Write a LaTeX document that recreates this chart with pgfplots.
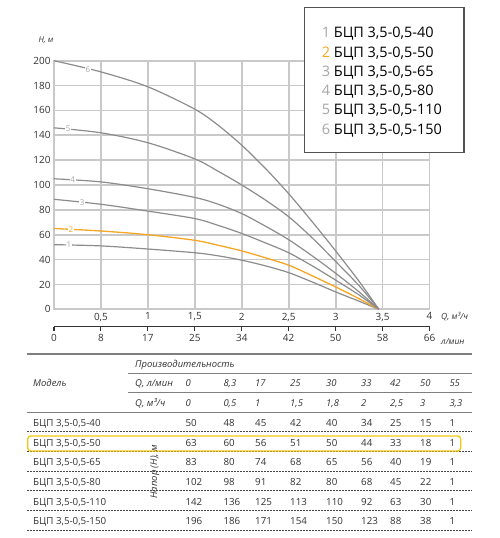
\documentclass[border=0pt]{standalone}
\usepackage{fontspec}
\setmainfont{Open Sans}
\usepackage{pgfplots}
\pgfplotsset{compat=1.18}

\definecolor{gridc}{HTML}{C9C9C9}
\definecolor{curvec}{HTML}{8C8C8C}
\definecolor{orangec}{HTML}{F5A623}
\definecolor{textc}{HTML}{333333}
\definecolor{numc}{HTML}{A6A6A6}
\definecolor{linec}{HTML}{7F7F7F}
\definecolor{boxc}{HTML}{F2C811}

\newcommand{\fs}[1]{\fontsize{#1}{#1}\selectfont}

\begin{document}
\begin{tikzpicture}
\useasboundingbox (0bp,0bp) rectangle (500bp,538bp);

% main chart
\begin{axis}[
    scale only axis,
    width=375.5bp, height=248.6bp,
    at={(54bp,228.7bp)}, anchor=south west,
    xmin=0, xmax=4, ymin=0, ymax=200,
    xtick={0,0.5,1,1.5,2,2.5,3,3.5,4},
    xticklabels={,{0,5},1,{1,5},2,{2,5},3,{3,5},4},
    ytick={0,20,40,60,80,100,120,140,160,180,200},
    xmajorgrids=true, ymajorgrids=true,
    major grid style={draw=gridc, line width=1.8bp},
    axis line style={draw=gridc, line width=1.8bp},
    major tick length=0pt,
    tick label style={font=\fs{10}, text=textc},
    /pgf/number format/assume math mode=true,
    clip=false,
]
\addplot[curvec, line width=1.2bp, smooth] coordinates {
    (0,52) (0.5,51) (1,48.5) (1.5,45.5) (1.75,43) (2,39.5) (2.25,35) (2.5,29.5) (2.75,22) (3,14) (3.25,6.5) (3.46,0)};
\addplot[orangec, line width=1.3bp, smooth] coordinates {
    (0,65) (0.5,63) (1,60) (1.5,55.5) (1.75,51.5) (2,47) (2.25,41.5) (2.5,35.5) (2.75,27) (3,18) (3.25,8.5) (3.46,0)};
\addplot[curvec, line width=1.2bp, smooth] coordinates {
    (0,88.5) (0.5,84.5) (1,79) (1.5,73) (1.75,67.5) (2,61) (2.25,53.5) (2.5,45.5) (2.75,35) (3,23.5) (3.25,11.5) (3.46,0)};
\addplot[curvec, line width=1.2bp, smooth] coordinates {
    (0,105) (0.5,102.5) (1,97) (1.5,90) (1.75,84.5) (2,77) (2.25,67) (2.5,56) (2.75,43) (3,29) (3.25,14) (3.46,0)};
\addplot[curvec, line width=1.2bp, smooth] coordinates {
    (0,146) (0.5,142) (1,134) (1.5,121) (1.75,111) (2,100) (2.25,88) (2.5,74.5) (2.75,57.5) (3,38.5) (3.25,19) (3.46,0)};
\addplot[curvec, line width=1.2bp, smooth] coordinates {
    (0,200) (0.5,191) (1,179) (1.5,161) (1.75,148) (2,132) (2.25,113.5) (2.5,93) (2.75,70.5) (3,47) (3.25,22.5) (3.46,0)};

\begin{scope}[every node/.style={fill=white, inner sep=0.6bp, font=\fs{8}}]
\node[text=numc] at (axis cs:0.16,51.7) {1};
\node[text=orangec] at (axis cs:0.18,64.5) {2};
\node[text=numc] at (axis cs:0.30,86) {3};
\node[text=numc] at (axis cs:0.20,104.5) {4};
\node[text=numc] at (axis cs:0.15,145) {5};
\node[text=numc] at (axis cs:0.36,193) {6};
\end{scope}
\end{axis}

% second flow scale, l/min
\begin{axis}[
    scale only axis,
    width=375.5bp, height=2bp,
    at={(54bp,211.3bp)}, anchor=south west,
    xmin=0, xmax=4, ymin=0, ymax=1,
    hide y axis,
    axis x line*=bottom,
    x axis line style={-, textc, line width=1.1bp},
    xtick={0,0.5,1,1.5,2,2.5,3,3.5,4},
    xticklabels={0,8,17,25,34,42,50,58,66},
    tick align=outside,
    major tick length=4bp,
    tick style={textc, line width=1.1bp},
    tick label style={font=\fs{10}, text=textc},
    /pgf/number format/assume math mode=true,
]
\end{axis}

% axis titles
\node[font=\itshape\fs{8}, text=textc] at (46bp,498bp) {H, м};
\node[font=\itshape\fs{8.5}, text=textc, anchor=west, inner sep=0pt] at (441bp,221.3bp) {Q, м³/ч};
\node[font=\itshape\fs{8.5}, text=textc, anchor=west, inner sep=0pt] at (441bp,196.3bp) {л/мин};

% legend box
\draw[textc!85, line width=1.1bp, fill=white] (304.3bp,530.7bp) rectangle (464bp,385.7bp);
\begin{scope}[every node/.style={anchor=base west, inner sep=0pt, font=\fs{14.5}, text=black}]
\node at (321.7bp,500.8bp) {\textcolor{numc}{1} БЦП 3,5-0,5-40};
\node at (321.7bp,480.8bp) {\textcolor{orangec}{2} БЦП 3,5-0,5-50};
\node at (321.7bp,461.8bp) {\textcolor{numc}{3} БЦП 3,5-0,5-65};
\node at (321.7bp,442.8bp) {\textcolor{numc}{4} БЦП 3,5-0,5-80};
\node at (321.7bp,423.8bp) {\textcolor{numc}{5} БЦП 3,5-0,5-110};
\node at (321.7bp,403.8bp) {\textcolor{numc}{6} БЦП 3,5-0,5-150};
\end{scope}

% table rules
\draw[linec, line width=1.1bp] (27bp,184bp) -- (472bp,184bp);
\draw[linec, line width=1.1bp] (128bp,164.7bp) -- (472bp,164.7bp);
\draw[linec, line width=1.1bp] (128bp,145.3bp) -- (472bp,145.3bp);
\draw[linec, line width=1.1bp] (27bp,125.7bp) -- (472bp,125.7bp);
\foreach \yy in {106.3,86.5,67,47.3,27.5,7.5}
  \draw[textc!90, line width=0.8bp, dash pattern=on 2bp off 1bp] (27bp,\yy bp) -- (472bp,\yy bp);

% highlighted row
\draw[boxc, line width=1.3bp, fill=white, rounded corners=3bp] (27.7bp,102bp) rectangle (460.7bp,87bp);

% header
\begin{scope}[every node/.style={anchor=base west, inner sep=0pt, font=\itshape\fs{9.5}, text=textc}]
\node at (135bp,170.3bp) {Производительность};
\node at (33bp,151.3bp) {Модель};
\node at (135bp,151.3bp) {Q, л/мин};
\node at (135bp,131.9bp) {Q, м³/ч};
\foreach \xx/\v in {185.3/0,223.3/{8,3},255/17,290/25,326/30,361/33,390/42,420/50,449.3/55}
  \node at (\xx bp,151.3bp) {\v};
\foreach \xx/\v in {185.3/0,223.3/{0,5},255/1,290/{1,5},326/{1,8},361/2,390/{2,5},420/3,449.3/{3,3}}
  \node at (\xx bp,131.9bp) {\v};
\end{scope}
\node[rotate=90, font=\itshape\fs{9.5}, text=textc, inner sep=0pt] at (155bp,66.3bp) {Напор (Н), м};

% body
\begin{scope}[every node/.style={anchor=base west, inner sep=0pt, font=\fs{9.8}, text=textc}]
\node at (33bp,111.9bp) {БЦП 3,5-0,5-40};
\node at (33bp,91.9bp)  {БЦП 3,5-0,5-50};
\node at (33bp,72.3bp)  {БЦП 3,5-0,5-65};
\node at (33bp,52.6bp)  {БЦП 3,5-0,5-80};
\node at (33bp,32.9bp)  {БЦП 3,5-0,5-110};
\node at (33bp,13.3bp)  {БЦП 3,5-0,5-150};
\foreach \yy/\r in {111.9/{50,48,45,42,40,34,25,15,1},
                    91.9/{63,60,56,51,50,44,33,18,1},
                    72.3/{83,80,74,68,65,56,40,19,1},
                    52.6/{102,98,91,82,80,68,45,22,1},
                    32.9/{142,136,125,113,110,92,63,30,1},
                    13.3/{196,186,171,154,150,123,88,38,1}} {
  \foreach \v [count=\i] in \r {
    \pgfmathsetmacro{\xx}{{185.3,223.3,255,290,326,361,390,420,449.3}[\i-1]}
    \node at (\xx bp,\yy bp) {\v};
  }
}
\end{scope}
\end{tikzpicture}
\end{document}
